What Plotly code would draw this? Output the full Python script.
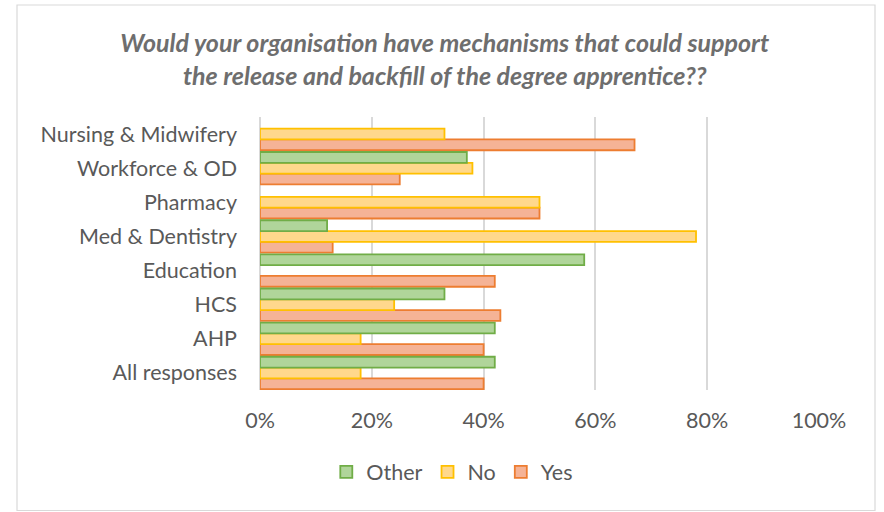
import plotly.graph_objects as go

# Response categories, bottom to top as drawn on the axis
categories = ["All responses", "AHP", "HCS", "Education", "Med & Dentistry",
              "Pharmacy", "Workforce & OD", "Nursing & Midwifery"]

# Share of responses per answer (fractions of 1)
yes_vals = [0.40, 0.40, 0.43, 0.42, 0.13, 0.50, 0.25, 0.67]
no_vals = [0.18, 0.18, 0.24, 0.00, 0.78, 0.50, 0.38, 0.33]
other_vals = [0.42, 0.42, 0.33, 0.58, 0.12, 0.00, 0.37, 0.00]

x_ticks = [0, 0.2, 0.4, 0.6, 0.8, 1.0]

series = [
    ("Yes", yes_vals, "#F5B396", "#ED7D31"),
    ("No", no_vals, "#FFD88C", "#FFC000"),
    ("Other", other_vals, "#B0D59A", "#70AD47"),
]

fig = go.Figure()
for name, vals, fill, edge in series:
    # empty answers get no bar at all (no hairline at zero)
    xs = [v if v else None for v in vals]
    fig.add_trace(go.Bar(
        name=name, y=categories, x=xs, orientation="h",
        marker=dict(color=fill, line=dict(color=edge, width=1.8)),
        hoverinfo="x+y+name",
    ))

FONT = "Lato"
GREY = "#595959"
SIZE = 21.5

fig.update_layout(
    width=884, height=512,
    margin=dict(l=260, r=65, t=117, b=122),
    paper_bgcolor="white", plot_bgcolor="white",
    barmode="group", bargap=0.05, bargroupgap=0,
    font=dict(family=FONT, size=SIZE, color=GREY),
    title=dict(
        text="<b><i>Would your organisation have mechanisms that could support<br>"
             "the release and backfill of the degree apprentice??</i></b>",
        x=0.503, xref="container", xanchor="center",
        y=0.898, yref="container", yanchor="top",
        font=dict(family=FONT, size=25, color="#6E6E6E"),
    ),
    xaxis=dict(
        range=[0, 1.0], tickvals=x_ticks, tickformat=".0%",
        showgrid=True, gridcolor="#D9D9D9", gridwidth=2,
        zeroline=True, zerolinecolor="#D9D9D9", zerolinewidth=2,
        showline=False, ticks="", ticklabelstandoff=15,
        tickfont=dict(family=FONT, size=SIZE, color=GREY),
        fixedrange=True,
    ),
    yaxis=dict(
        type="category", categoryorder="array", categoryarray=categories,
        showgrid=False, showline=False, ticks="", ticklabelstandoff=22,
        tickfont=dict(family=FONT, size=SIZE, color=GREY),
        fixedrange=True,
    ),
    legend=dict(
        orientation="h", traceorder="reversed",
        x=0.344, xanchor="center", y=-0.225, yanchor="top",
        font=dict(family=FONT, size=SIZE, color=GREY),
        itemwidth=30,
    ),
    showlegend=True,
)

# Light frame around the whole chart
fig.add_shape(
    type="rect", xref="paper", yref="paper",
    x0=(17 - 260) / 559, x1=(875 - 260) / 559,
    y0=(390 - 510.5) / 273, y1=(390 - 5) / 273,
    line=dict(color="#D9D9D9", width=1.2), fillcolor="rgba(0,0,0,0)",
    layer="below",
)

fig.write_html("out.html")
